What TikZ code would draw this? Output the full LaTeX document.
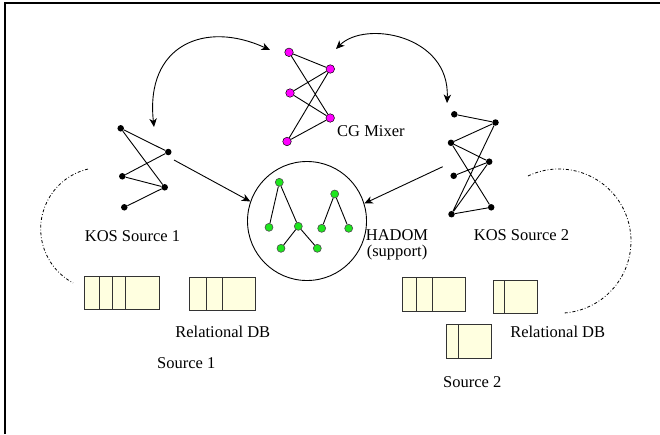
\documentclass[tikz,border=0pt]{standalone}
\usepackage{fontspec}
\setmainfont{Liberation Serif}
\usetikzlibrary{arrows.meta}
\definecolor{dbfill}{RGB}{255,255,224}
\definecolor{pinkdot}{RGB}{255,0,255}
\definecolor{greendot}{RGB}{30,230,30}
\tikzset{
  kdot/.style={circle,fill=black,inner sep=0pt,minimum size=6.5pt},
  pdot/.style={circle,fill=pinkdot,draw=black,line width=0.5pt,inner sep=0pt,minimum size=8.5pt},
  gdot/.style={circle,fill=greendot,draw=black!70,line width=0.6pt,inner sep=0pt,minimum size=8pt},
  edge/.style={line width=0.9pt},
  link/.style={line width=0.9pt,-{Stealth[length=8.5pt,width=7.5pt,inset=2.5pt]}},
  swap/.style={line width=0.9pt,{Stealth[length=8.5pt,width=7.5pt,inset=2.5pt]}-{Stealth[length=8.5pt,width=7.5pt,inset=2.5pt]}},
  loop/.style={line width=0.8pt,dash pattern=on 3pt off 2pt on 0.8pt off 2pt},
  dbcard/.style={fill=dbfill,draw=black!80,line width=0.9pt},
  lbl/.style={font=\fontsize{16.5}{19}\selectfont,inner sep=0pt,anchor=base}
}
\begin{document}
\begin{tikzpicture}[x=1pt,y=-1pt]
\useasboundingbox (0,0) rectangle (660,434);
% frame
\draw[line width=1.4pt] (5,434) -- (5,3) -- (660,3);

% KOS source 1 graph
\node[kdot] (a1) at (120.7,128.3) {};
\node[kdot] (a2) at (168.3,152) {};
\node[kdot] (a3) at (122.3,176.3) {};
\node[kdot] (a4) at (164.7,187.3) {};
\node[kdot] (a5) at (124.3,207.3) {};
\draw[edge] (a1) -- (a2) (a1) -- (a4) (a2) -- (a3) (a3) -- (a4) (a4) -- (a5);

% CG mixer graph
\node[pdot] (m1) at (289,52.3) {};
\node[pdot] (m2) at (330.3,69) {};
\node[pdot] (m3) at (290,93) {};
\node[pdot] (m4) at (330.2,118) {};
\node[pdot] (m5) at (287,141.5) {};
\draw[edge] (m1) -- (m2) (m1) -- (m4) (m3) -- (m2) (m3) -- (m4) (m5) -- (m2) (m5) -- (m4);
\node[lbl,anchor=base west] (mixlbl) at (337,136) {CG Mixer};

% KOS source 2 graph
\node[kdot] (b1) at (454.3,114.3) {};
\node[kdot] (b2) at (495.5,122.5) {};
\node[kdot] (b3) at (451,142.8) {};
\node[kdot] (b4) at (489.2,161.7) {};
\node[kdot] (b5) at (453.7,175.8) {};
\node[kdot] (b6) at (451.5,214.2) {};
\node[kdot] (b7) at (491.2,207.3) {};
\draw[edge] (b1) -- (b2) (b3) -- (b2) (b3) -- (b4) (b3) -- (b7)
            (b5) -- (b4) (b6) -- (b2) (b6) -- (b4) (b6) -- (b7);

% HADOM support
\node[circle,draw,line width=0.9pt,minimum size=119pt,inner sep=0pt] (hadom) at (307,221) {};
\node[gdot] (g1) at (279.3,182.3) {};
\node[gdot] (g2) at (269,227.3) {};
\node[gdot] (g3) at (298.3,226.3) {};
\node[gdot] (g4) at (281,248.3) {};
\node[gdot] (g5) at (317.3,248.3) {};
\node[gdot] (g6) at (334.7,194) {};
\node[gdot] (g7) at (321.7,228.3) {};
\node[gdot] (g8) at (348.7,228.3) {};
\draw[edge] (g1) -- (g2) (g1) -- (g3) (g3) -- (g4) (g3) -- (g5) (g6) -- (g7) (g6) -- (g8);
\node[lbl,align=center,font=\fontsize{16.5}{16}\selectfont] (hadomlbl) at (397,256.5) {HADOM\\(support)};

% mappings into the support
\coordinate (s1) at (174,160);
\coordinate (s2) at (442.7,166.7);
\draw[link] (s1) -- (hadom.161);
\draw[link] (s2) -- (hadom.17);

% exchanges with the mixer
\coordinate (t1) at (154,127);
\coordinate (t2) at (270,50);
\coordinate (t3) at (336,49);
\coordinate (t4) at (447,103);
\draw[swap] (t1) .. controls (145,45) and (205,20) .. (t2);
\draw[swap] (t3) .. controls (365,20) and (450,35) .. (t4);

% source boundaries
\draw[loop] (102.1,228.8) ++(256.7:61.4) arc[start angle=256.7,end angle=118.2,radius=61.4];
\draw[loop] (558.9,241.1) ++(-115.4:72.1) arc[start angle=-115.4,end angle=86.7,radius=72.1];

\node[lbl] (kos1) at (132.5,241.5) {KOS Source 1};
\node[lbl] (kos2) at (521.5,240) {KOS Source 2};

% relational tables, source 1
\foreach \l in {84.3,99.7,112.3,125.7} \draw[dbcard] (\l,276.7) rectangle (159,309.3);
\foreach \l in {189,206.7,222} \draw[dbcard] (\l,277.7) rectangle (255.3,310.7);
\node[lbl] (rdb1) at (222.8,337.5) {Relational DB};
\node[lbl] (src1) at (186.3,368.3) {Source 1};

% relational tables, source 2
\foreach \l in {402.7,416.7,432.3} \draw[dbcard] (\l,277.7) rectangle (465.7,311.3);
\foreach \l in {493.3,504} \draw[dbcard] (\l,280) rectangle (537.3,313.3);
\foreach \l in {446,458.3} \draw[dbcard] (\l,324.3) rectangle (491.3,358.3);
\node[lbl] (rdb2) at (557.7,337.3) {Relational DB};
\node[lbl] (src2) at (472.2,387.3) {Source 2};
\end{tikzpicture}
\end{document}
